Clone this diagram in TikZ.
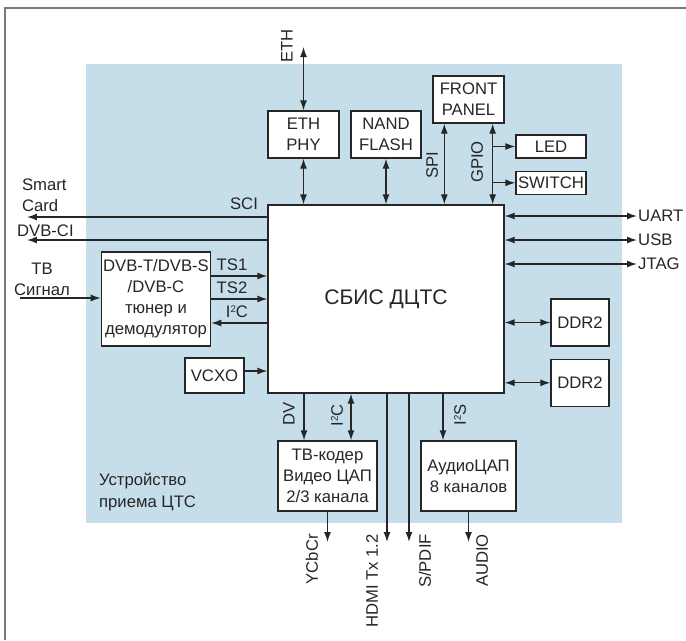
\documentclass[tikz,border=0pt]{standalone}
\usepackage{fontspec}
\setmainfont{Liberation Sans}
\usetikzlibrary{arrows.meta, positioning, calc}
\definecolor{bgBlue}{HTML}{C6DEEA}
\definecolor{lineDark}{HTML}{262626}
\definecolor{frameGray}{HTML}{7A7A7A}
\newcommand{\supTwo}{\raisebox{2.8pt}{\fontsize{5.5}{6}\selectfont 2}}
\tikzset{
  blk/.style={rectangle, draw=lineDark, fill=white, line width=0.75pt,
              align=center, inner sep=1pt, text=lineDark},
  arrS/.style={-{Latex[length=2mm, width=1.4mm]}, lineDark, line width=0.75pt},
  arrD/.style={{Latex[length=2mm, width=1.4mm]}-{Latex[length=2mm, width=1.4mm]},
               lineDark, line width=0.75pt},
  lbl/.style={text=lineDark, inner sep=1pt},
  vlbl/.style={lbl, rotate=90},
}

\begin{document}
\begin{tikzpicture}[x=0.02cm, y=-0.02cm, font=\fontsize{9.5}{12}\selectfont]
    \useasboundingbox (0,0) rectangle (686,640);
    %% Rahmen + Hintergrund
    \draw[frameGray, line width=1pt] (5,640) -- (5,8) -- (686,8);
    \fill[bgBlue] (86,64) rectangle (622,523);

    %% Zentraler Chip
    \node[blk, minimum width=4.72cm, minimum height=3.76cm,
          font=\fontsize{12}{14}\selectfont] (soc) at (386,299) {СБИС ДЦТС};

    %% Obere Reihe
    \node[blk, minimum width=1.42cm, minimum height=0.94cm] (eth) at (303.5,134.5) {ETH\\PHY};
    \node[blk, minimum width=1.40cm, minimum height=0.94cm] (nand) at (386,134.5) {NAND\\FLASH};
    \node[blk, minimum width=1.42cm, minimum height=0.94cm] (fp) at (468.5,99.5) {FRONT\\PANEL};
    \node[blk, minimum width=1.40cm, minimum height=0.46cm] (led) at (551,146.5) {LED};
    \node[blk, minimum width=1.40cm, minimum height=0.46cm, below=0.24cm of led] (sw) {SWITCH};

    \coordinate (ethOut) at (303.5,47);
    \draw[arrD] (ethOut) -- (eth.north);
    \draw[arrD] (eth.south) -- (eth.south |- soc.north);
    \draw[arrD] (nand.south) -- (nand.south |- soc.north);
    \coordinate (spi) at ([xshift=0.24cm]fp.south west);
    \coordinate (gpio) at ([xshift=-0.24cm]fp.south east);
    \draw[arrD] (spi) -- (spi |- soc.north); \draw[arrD] (gpio) -- (gpio |- soc.north);
    \draw[arrS] (gpio |- led.west) -- (led.west); \draw[arrS] (gpio |- sw.west) -- (sw.west);
    \node[vlbl] at (287,46) {ETH};
    \node[vlbl] at (432,165) {SPI};
    \node[vlbl] at (477,162) {GPIO};

    %% Rechte Seite
    \node[blk, minimum width=1.16cm, minimum height=0.94cm] (ddrA) at (580,322.5) {DDR2};
    \node[blk, minimum width=1.16cm, minimum height=0.94cm, below=0.24cm of ddrA] (ddrB) {DDR2};
    \draw[arrD] (ddrA.west -| soc.east) -- (ddrA.west);
    \draw[arrD] (ddrB.west -| soc.east) -- (ddrB.west);
    \coordinate (uart) at (637,216); \coordinate (usb) at (637,240); \coordinate (jtag) at (637,264);
    \draw[arrD] (uart -| soc.east) -- (uart); \node[lbl, anchor=west, inner sep=0.5pt] at (uart) {UART};
    \draw[arrD] (usb -| soc.east) -- (usb); \node[lbl, anchor=west, inner sep=0.5pt] at (usb) {USB};
    \draw[arrD] (jtag -| soc.east) -- (jtag); \node[lbl, anchor=west, inner sep=0.5pt] at (jtag) {JTAG};

    %% Linke Seite
    \node[blk, minimum width=2.12cm, minimum height=1.88cm] (tun) at (156,299)
         {DVB-T/DVB-S\\/DVB-C\\тюнер и\\демодулятор};
    \node[blk, minimum width=1.18cm, minimum height=0.70cm] (vcxo) at (214.5,375.5) {VCXO};
    \coordinate (scOut) at (27,217); \coordinate (ciOut) at (27,240);
    \draw[arrS] (scOut -| soc.west) -- (scOut);
    \draw[arrS] (ciOut -| soc.west) -- (ciOut);
    \node[lbl, anchor=east] at (260,204) {SCI};
    \node[lbl, anchor=west, align=left] at (20,195) {Smart\\Card};
    \node[lbl, anchor=west] at (15,231) {DVB-CI};
    \coordinate (tvIn) at (20,298);
    \draw[arrS] (tvIn) -- (tvIn -| tun.west);
    \node[lbl, align=center] at (42,279) {ТВ\\Сигнал};
    \coordinate (ts1) at ([yshift=0.46cm]tun.east);
    \coordinate (i2cL) at ([yshift=-0.48cm]tun.east);
    \draw[arrS] (ts1) -- (ts1 -| soc.west);
    \draw[arrS] (tun.east) -- (tun.east -| soc.west);
    \draw[arrS] (i2cL -| soc.west) -- (i2cL);
    \node[lbl] at (232,265) {TS1};
    \node[lbl] at (232,288) {TS2};
    \node[lbl] at (237,312) {I\supTwo C};
    \coordinate (vc) at ([yshift=0.09cm]vcxo.east);
    \draw[arrS] (vc) -- (vc -| soc.west);

    %% Untere Reihe
    \node[blk, minimum width=1.98cm, minimum height=1.40cm] (enc) at (327.5,476)
         {ТВ-кодер\\Видео ЦАП\\2/3 канала};
    \node[blk, minimum width=1.90cm, minimum height=1.40cm] (dac) at (468.5,476)
         {АудиоЦАП\\8 каналов};
    \coordinate (dv) at ([xshift=-0.47cm]enc.north);
    \coordinate (i2cB) at ([xshift=0.47cm]enc.north);
    \coordinate (i2sB) at ([xshift=-0.51cm]dac.north);
    \draw[arrS] (dv |- soc.south) -- (dv);
    \draw[arrD] (i2cB |- soc.south) -- (i2cB);
    \draw[arrS] (i2sB |- soc.south) -- (i2sB);
    \coordinate (ycOut) at (327.5,542); \coordinate (hdmiOut) at (387,542);
    \coordinate (spdOut) at (409,542); \coordinate (audOut) at (468.5,542);
    \draw[arrS] (enc.south) -- (ycOut);
    \draw[arrS] (hdmiOut |- soc.south) -- (hdmiOut);
    \draw[arrS] (spdOut |- soc.south) -- (spdOut);
    \draw[arrS] (dac.south) -- (audOut);
    \node[vlbl] at (289,414) {DV};
    \node[vlbl] at (337,415) {I\supTwo C};
    \node[vlbl] at (460,415) {I\supTwo S};
    \node[vlbl, anchor=east] at (312,532) {YCbCr};
    \node[vlbl, anchor=east] at (372,532) {HDMI Tx 1.2};
    \node[vlbl, anchor=east] at (425,532) {S/PDIF};
    \node[vlbl, anchor=east] at (482,532) {AUDIO};

    \node[lbl, anchor=west, align=left] at (97,492) {Устройство\\приема ЦТС};
\end{tikzpicture}
\end{document}
